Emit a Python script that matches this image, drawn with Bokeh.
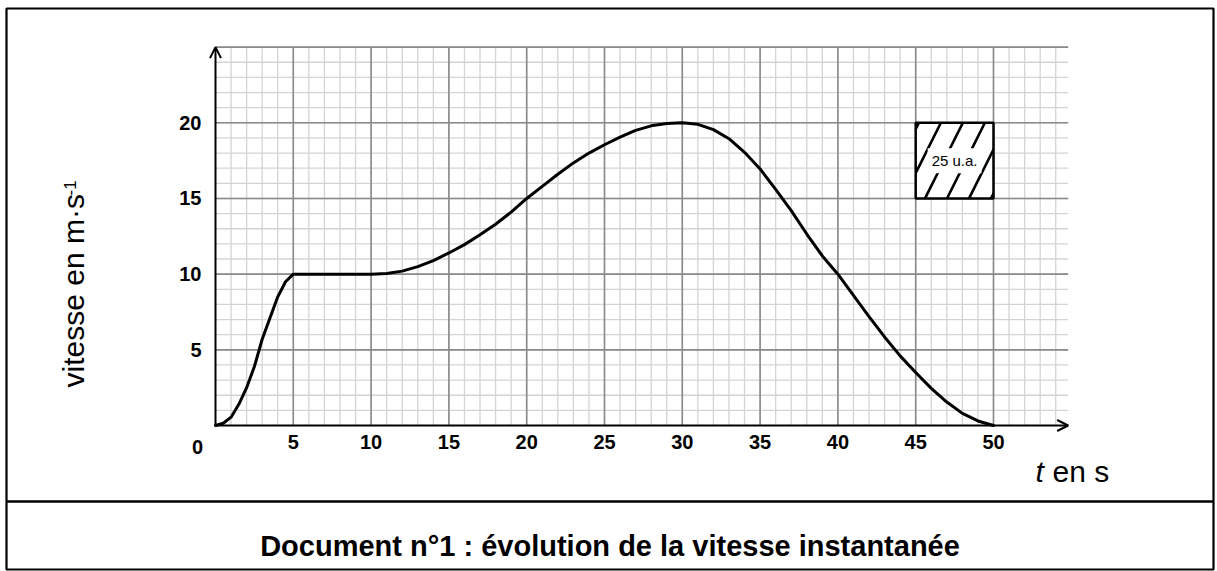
import numpy as np
from bokeh.plotting import figure
from bokeh.models import Range1d, LinearAxis, FixedTicker, Arrow, OpenHead, Span, Label
from bokeh.core.properties import value
from bokeh.embed import file_html
from bokeh.resources import INLINE

# ---------------- data ----------------
t_values = [0, 0.5, 1, 1.5, 2, 2.5, 3, 3.5, 4, 4.5, 5,
            6, 7, 8, 9, 10, 11, 12, 13, 14, 15, 16, 17, 18, 19, 20,
            21, 22, 23, 24, 25, 26, 27, 28, 29, 30, 31, 32, 33, 34, 35,
            36, 37, 38, 39, 40, 41, 42, 43, 44, 45, 46, 47, 48, 49, 50]
v_values = [0, 0.15, 0.55, 1.4, 2.5, 3.9, 5.7, 7.1, 8.5, 9.5, 10,
            10, 10, 10, 10, 10, 10.05, 10.2, 10.5, 10.9, 11.4, 11.95, 12.6, 13.3, 14.1, 15.0,
            15.8, 16.6, 17.35, 18.0, 18.55, 19.05, 19.5, 19.8, 19.95, 20, 19.9, 19.55, 18.95, 18.05, 16.95,
            15.6, 14.2, 12.65, 11.2, 10.0, 8.6, 7.2, 5.85, 4.6, 3.5, 2.45, 1.55, 0.8, 0.3, 0]

x_ticks = [5, 10, 15, 20, 25, 30, 35, 40, 45, 50]
y_ticks = [5, 10, 15, 20]
origin_label = "0"

box_t = [45, 50]
box_v = [15, 20]
box_text = "25 u.a."

y_label_main = "vitesse en m·s"
y_label_sup = "-1"
x_label_var = "t"
x_label_unit = "en s"
caption = "Document n°1 : évolution de la vitesse instantanée"

T_GRID_END = 54.8
V_GRID_END = 25
MINOR_STEP = 1
MAJOR_STEP = 5

# ---------------- layout ----------------
W, H = 1217, 571
B_LEFT, B_TOP, B_RIGHT, B_BOTTOM = 6, 8, 4, 2
X0_PX, PX_PER_T = 215.0, 15.56
Y0_PX, PX_PER_V = 425.0, 15.135


def t_at(px):
    return (px - X0_PX) / PX_PER_T


def v_at(py):
    return (Y0_PX - py) / PX_PER_V


f_left, f_right = B_LEFT, W - B_RIGHT
f_top, f_bottom = B_TOP, H - B_BOTTOM

FONT = "Liberation Sans"

p = figure(width=W, height=H,
           x_range=Range1d(t_at(f_left), t_at(f_right)),
           y_range=Range1d(v_at(f_bottom), v_at(f_top)),
           x_axis_location=None, y_axis_location=None,
           toolbar_location=None, output_backend="svg",
           min_border_left=B_LEFT, min_border_right=B_RIGHT,
           min_border_top=B_TOP, min_border_bottom=B_BOTTOM)
p.grid.visible = False
p.outline_line_color = "black"
p.outline_line_width = 2.2
p.background_fill_color = "white"
p.border_fill_color = "white"

# grid
minor_t = np.arange(MINOR_STEP, T_GRID_END, MINOR_STEP)
minor_v = np.arange(MINOR_STEP, V_GRID_END + 0.01, MINOR_STEP)
major_t = np.array(x_ticks)
major_v = np.arange(MAJOR_STEP, V_GRID_END + 0.01, MAJOR_STEP)

p.segment(x0=minor_t, y0=0, x1=minor_t, y1=V_GRID_END, line_color="#d4d4d4", line_width=1.3)
p.segment(x0=0, y0=minor_v, x1=T_GRID_END, y1=minor_v, line_color="#d4d4d4", line_width=1.3)
p.segment(x0=major_t, y0=0, x1=major_t, y1=V_GRID_END, line_color="#8a8a8a", line_width=1.6)
p.segment(x0=0, y0=major_v, x1=T_GRID_END, y1=major_v, line_color="#8a8a8a", line_width=1.6)

# axes (arrows)
p.add_layout(Arrow(end=OpenHead(size=11, line_width=2, line_color="black"),
                   x_start=0, y_start=0, x_end=0, y_end=V_GRID_END,
                   line_width=2, line_color="black"))
p.add_layout(Arrow(end=OpenHead(size=11, line_width=2, line_color="black"),
                   x_start=0, y_start=0, x_end=T_GRID_END, y_end=0,
                   line_width=2, line_color="black"))

# tick labels through axes
xaxis = LinearAxis(fixed_location=0, ticker=FixedTicker(ticks=x_ticks))
yaxis = LinearAxis(fixed_location=0, ticker=FixedTicker(ticks=y_ticks))
for ax in (xaxis, yaxis):
    ax.axis_line_color = None
    ax.major_tick_line_color = None
    ax.minor_tick_line_color = None
    ax.major_tick_out = 0
    ax.major_tick_in = 0
    ax.major_label_text_font = FONT
    ax.major_label_text_font_style = "bold"
    ax.major_label_text_font_size = "20px"
    ax.major_label_text_color = "black"
xaxis.major_label_standoff = 9
yaxis.major_label_standoff = 14
p.add_layout(xaxis, "below")
p.add_layout(yaxis, "left")

p.text(x=[0], y=[0], text=[origin_label], x_offset=-18, y_offset=21,
       text_font=value(FONT), text_font_style="bold", text_font_size="20px",
       text_align="center", text_baseline="middle", text_color="black")

# curve
p.line(t_values, v_values, line_width=3, line_color="black", line_join="round", line_cap="round")

# scale box
p.quad(left=[box_t[0]], right=[box_t[1]], bottom=[box_v[0]], top=[box_v[1]],
       fill_color="white", line_color="black", line_width=2.5,
       hatch_pattern="/", hatch_scale=44, hatch_weight=2.6, hatch_color="black")
p.add_layout(Label(x=(box_t[0] + box_t[1]) / 2, y=(box_v[0] + box_v[1]) / 2, text=box_text,
                   text_align="center", text_baseline="middle",
                   text_font=FONT, text_font_size="15px", text_color="black",
                   background_fill_color="white", padding=4))

# axis titles
p.text(x=[t_at(73)], y=[v_at(387)], text=[y_label_main], angle=np.pi / 2,
       text_font=value(FONT), text_font_size="30px", text_align="left",
       text_baseline="alphabetic", text_color="black")
p.text(x=[t_at(69)], y=[v_at(195)], text=[y_label_sup], angle=np.pi / 2,
       text_font=value(FONT), text_font_size="17px", text_align="left",
       text_baseline="alphabetic", text_color="black")
p.text(x=[t_at(1035)], y=[v_at(471)], text=[x_label_var],
       text_font=value(FONT), text_font_size="30px", text_font_style="italic",
       text_align="left", text_baseline="alphabetic", text_color="black")
p.text(x=[t_at(1052)], y=[v_at(471)], text=[x_label_unit],
       text_font=value(FONT), text_font_size="30px",
       text_align="left", text_baseline="alphabetic", text_color="black")

# caption separator and caption
p.add_layout(Span(location=v_at(501), dimension="width", line_color="black", line_width=2.5))
p.text(x=[t_at((f_left + f_right) / 2)], y=[v_at(545)], text=[caption],
       text_font=value(FONT), text_font_size="29px", text_font_style="bold",
       text_align="center", text_baseline="alphabetic", text_color="black")

open("out.html", "w").write(file_html(p, INLINE))
